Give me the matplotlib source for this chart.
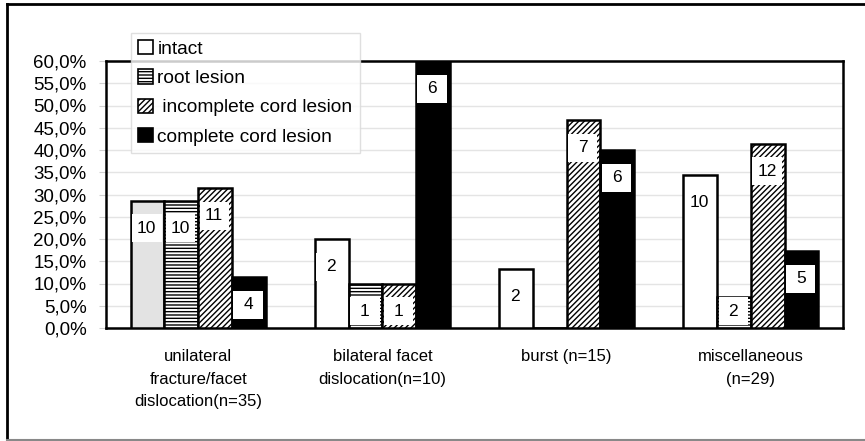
import matplotlib
matplotlib.use("Agg")
import matplotlib.pyplot as plt
import numpy as np
from matplotlib.lines import Line2D
from matplotlib.patches import Rectangle

plt.rcParams['font.family'] = ['Liberation Sans', 'DejaVu Sans']
plt.rcParams['hatch.linewidth'] = 1.0

categories = ["unilateral\nfracture/facet\ndislocation(n=35)",
              "bilateral facet\ndislocation(n=10)",
              "burst (n=15)",
              "miscellaneous\n(n=29)"]
group_n = [35, 10, 15, 29]
series = ["intact", "root lesion", "incomplete cord lesion", "complete cord lesion"]
counts = {
    "intact": [10, 2, 2, 10],
    "root lesion": [10, 1, 0, 2],
    "incomplete cord lesion": [11, 1, 7, 12],
    "complete cord lesion": [4, 6, 6, 5],
}
yticks = [0, 5, 10, 15, 20, 25, 30, 35, 40, 45, 50, 55, 60]

styles = {
    "intact": dict(color="white", hatch=None),
    "root lesion": dict(color="white", hatch="-----"),
    "incomplete cord lesion": dict(color="white", hatch="//////"),
    "complete cord lesion": dict(color="black", hatch=None),
}

fig = plt.figure(figsize=(8.65, 4.41), dpi=100)
ax = fig.add_axes([106 / 865, 1 - 328 / 441, 737 / 865, 267 / 441])

x = np.arange(len(categories))
w = 0.183
box_w, box_h = 0.16, 6.3
for i, s in enumerate(series):
    pct = [100 * c / n for c, n in zip(counts[s], group_n)]
    pos = x + (i - 1.5) * w
    st = styles[s]
    bars = ax.bar(pos, pct, w, color=st["color"], hatch=st["hatch"],
                  edgecolor="black", linewidth=1.8, zorder=3)
    if s == "intact":
        bars[0].set_facecolor("#e3e3e3")
    for b, c, p in zip(bars, counts[s], pct):
        if c == 0:
            continue
        cx = b.get_x() + b.get_width() / 2 - 0.004
        cy = max(p - 6.2, box_h / 2 + 0.6)
        ax.add_patch(Rectangle((cx - box_w / 2, cy - box_h / 2), box_w, box_h,
                               fc="white", ec="none", zorder=4))
        ax.text(cx, cy, str(c), ha="center", va="center", fontsize=12.5, zorder=5)

ax.set_ylim(0, 60)
ax.set_xlim(-0.5, len(categories) - 0.5)
ax.set_yticks(yticks)
ax.set_yticklabels([f"{v:.1f}%".replace(".", ",") for v in yticks], fontsize=13.5)
ax.set_xticks(x)
ax.set_xticklabels(categories, fontsize=12, linespacing=1.65)
ax.tick_params(axis="x", length=0, pad=15)
ax.tick_params(axis="y", length=5, color="#d0d0d0", pad=9)
ax.grid(axis="y", color="#e4e4e4", linewidth=1, zorder=0)
for sp in ax.spines.values():
    sp.set_linewidth(1.8)
    sp.set_color("black")

handles = [plt.Rectangle((0, 0), 1, 1, fc=styles[s]["color"], hatch=styles[s]["hatch"],
                         ec="black", lw=1.2) for s in series]
leg = fig.legend(handles, ["intact", "root lesion", " incomplete cord lesion", "complete cord lesion"],
                 loc="upper left", bbox_to_anchor=(131 / 865, 1 - 33 / 441),
                 fontsize=13.8, frameon=True, fancybox=False, handlelength=0.75,
                 handleheight=0.75, handletextpad=0.25, labelspacing=0.6, borderpad=0.38,
                 borderaxespad=0)
leg.get_frame().set_edgecolor("#d8d8d8")
leg.get_frame().set_linewidth(1)

fig.add_artist(Line2D([7 / 865, 7 / 865], [0.002, 1 - 4 / 441], color="black", lw=2,
                      transform=fig.transFigure))
fig.add_artist(Line2D([7 / 865, 1], [1 - 4 / 441, 1 - 4 / 441], color="black", lw=2,
                      transform=fig.transFigure))
fig.add_artist(Line2D([7 / 865, 1], [0.002, 0.002], color="#888888", lw=1.5,
                      transform=fig.transFigure))

fig.savefig("out.png", dpi=100)
